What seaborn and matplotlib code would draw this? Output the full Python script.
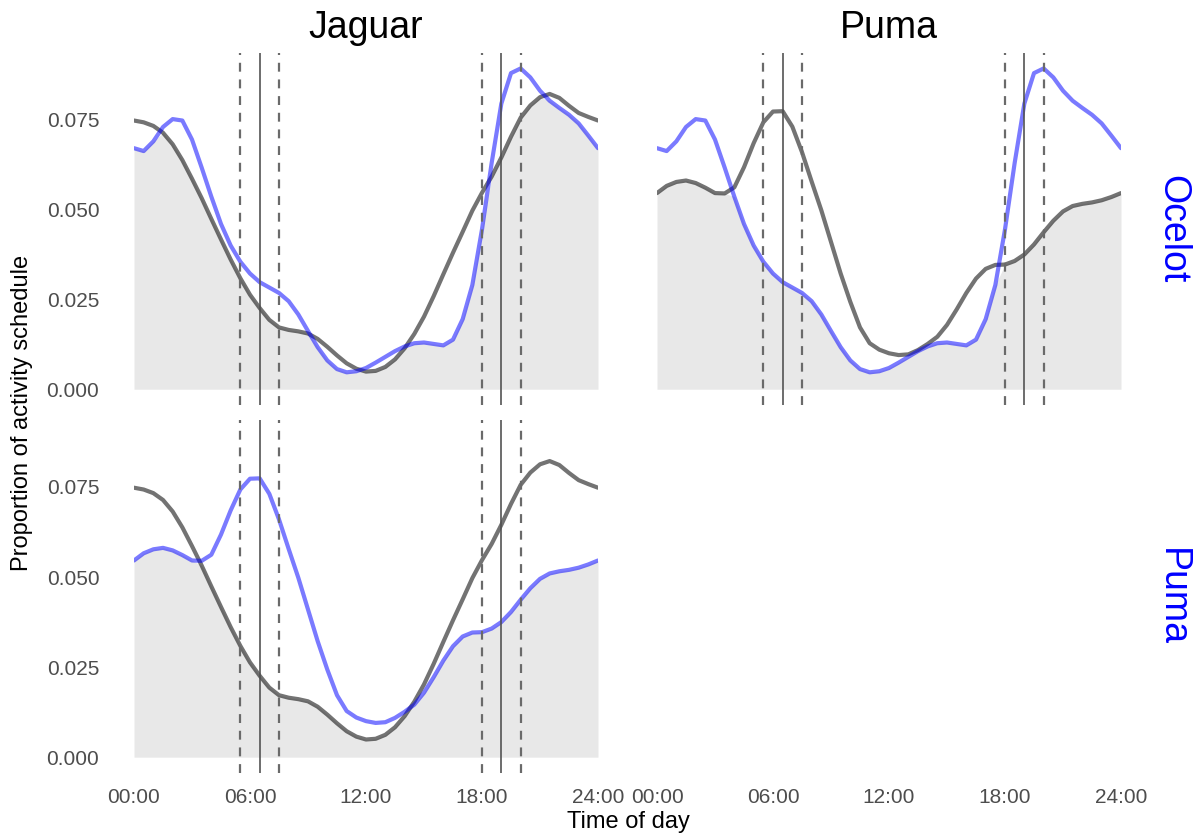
import numpy as np
import pandas as pd
import matplotlib
matplotlib.use("Agg")
import matplotlib.pyplot as plt
import seaborn as sns

# Kernel activity densities, sampled every half hour from 00:00 to 24:00
hours = np.arange(0, 24.01, 0.5)

jaguar = [0.0748, 0.0743, 0.0733, 0.0714, 0.0682, 0.0638, 0.0586, 0.0532, 0.0474, 0.0417,
          0.0361, 0.0309, 0.0263, 0.0226, 0.0193, 0.0172, 0.0165, 0.0161, 0.0155, 0.0140,
          0.0118, 0.0094, 0.0072, 0.0057, 0.0049, 0.0051, 0.0062, 0.0083, 0.0114, 0.0154,
          0.0202, 0.0259, 0.0320, 0.0380, 0.0438, 0.0497, 0.0547, 0.0592, 0.0645, 0.0703,
          0.0756, 0.0790, 0.0813, 0.0822, 0.0811, 0.0789, 0.0769, 0.0758, 0.0748]

ocelot = [0.0671, 0.0663, 0.0690, 0.0730, 0.0752, 0.0748, 0.0695, 0.0617, 0.0536, 0.0460,
          0.0400, 0.0355, 0.0322, 0.0298, 0.0283, 0.0268, 0.0245, 0.0208, 0.0162, 0.0117,
          0.0080, 0.0056, 0.0047, 0.0050, 0.0059, 0.0074, 0.0090, 0.0106, 0.0119, 0.0128,
          0.0130, 0.0126, 0.0122, 0.0138, 0.0195, 0.0290, 0.0445, 0.0630, 0.0795, 0.0880,
          0.0893, 0.0868, 0.0831, 0.0803, 0.0783, 0.0764, 0.0740, 0.0706, 0.0671]

puma = [0.0546, 0.0566, 0.0577, 0.0581, 0.0574, 0.0561, 0.0546, 0.0545, 0.0562, 0.0618,
        0.0685, 0.0743, 0.0773, 0.0774, 0.0731, 0.0660, 0.0578, 0.0498, 0.0410, 0.0322,
        0.0243, 0.0172, 0.0128, 0.0110, 0.0100, 0.0095, 0.0097, 0.0109, 0.0126, 0.0146,
        0.0179, 0.0222, 0.0268, 0.0308, 0.0335, 0.0346, 0.0347, 0.0357, 0.0375, 0.0403,
        0.0437, 0.0469, 0.0495, 0.0510, 0.0516, 0.0520, 0.0526, 0.0535, 0.0546]

densities = {"Jaguar": jaguar, "Ocelot": ocelot, "Puma": puma}

# Sunrise / sunset (solid) and their ranges (dashed), in hours
sun_events = [6.5, 19.0]
sun_ranges = [5.5, 7.5, 18.0, 20.0]

x_ticks = [0, 6, 12, 18, 24]
x_labels = ["00:00", "06:00", "12:00", "18:00", "24:00"]
y_ticks = [0.0, 0.025, 0.05, 0.075]
y_labels = ["0.000", "0.025", "0.050", "0.075"]

col_species = ["Jaguar", "Puma"]
row_species = ["Ocelot", "Puma"]

df = pd.DataFrame({"hour": np.tile(hours, 3),
                   "species": np.repeat(list(densities.keys()), len(hours)),
                   "density": np.concatenate([densities[k] for k in densities])})

sns.set_theme(style="white")
plt.rcParams["font.family"] = ["Liberation Sans", "DejaVu Sans"]

fig = plt.figure(figsize=(11.98, 8.38), dpi=100)
W, H = 1198, 838


def frac_box(x0, y0, x1, y1):
    return [x0 / W, 1 - y1 / H, (x1 - x0) / W, (y1 - y0) / H]


col_x = [(134, 598), (657, 1121)]
row_y = [(53, 405), (420, 773)]
ylim = (-0.0044, 0.0936)
tick_grey = "#4D4D4D"

for r, rsp in enumerate(row_species):
    for c, csp in enumerate(col_species):
        ax = fig.add_axes(frac_box(col_x[c][0], row_y[r][0], col_x[c][1], row_y[r][1]))
        ax.set_xlim(0, 24)
        ax.set_ylim(*ylim)
        for s in ax.spines.values():
            s.set_visible(False)
        ax.grid(False)
        ax.set_facecolor("none")
        ax.tick_params(length=0, colors=tick_grey, labelsize=15)
        ax.set_xticks(x_ticks)
        ax.set_yticks(y_ticks)
        if r == 1:
            ax.set_xticklabels(x_labels)
            ax.tick_params(axis="x", pad=11)
        else:
            ax.set_xticklabels([])
        if c == 0:
            ax.set_yticklabels(y_labels)
            ax.tick_params(axis="y", pad=25)
        else:
            ax.set_yticklabels([])

        if rsp == csp:
            continue

        ref = df[df.species == csp]
        other = df[df.species == rsp]
        overlap = np.minimum(np.asarray(densities[csp]), np.asarray(densities[rsp]))
        ax.fill_between(hours, 0, overlap, color="#E8E8E8", lw=0, zorder=1)

        sns.lineplot(data=ref, x="hour", y="density", ax=ax, color="black",
                     alpha=0.55, lw=3.0, zorder=3, solid_capstyle="round",
                     solid_joinstyle="round")
        sns.lineplot(data=other, x="hour", y="density", ax=ax, color="blue",
                     alpha=0.52, lw=3.0, zorder=4, solid_capstyle="round",
                     solid_joinstyle="round")

        for t in sun_events:
            ax.axvline(t, color="#505050", lw=1.3, alpha=0.9, zorder=5)
        for t in sun_ranges:
            ax.axvline(t, color="#6A6A6A", lw=1.6, ls=(0, (4, 3.5)), zorder=5)

    # remove per-axes labels set by seaborn
for ax in fig.axes:
    ax.set_xlabel("")
    ax.set_ylabel("")

# Column titles
for c, csp in enumerate(col_species):
    xc = (col_x[c][0] + col_x[c][1]) / 2 / W
    fig.text(xc, 1 - 38 / H, csp, ha="center", va="baseline", fontsize=27, color="black")

# Row labels
for r, rsp in enumerate(row_species):
    yc = 1 - (row_y[r][0] + row_y[r][1]) / 2 / H
    fig.text(1172 / W, yc, rsp, ha="center", va="center", rotation=270,
             fontsize=27, color="#0000FF")

fig.text(22 / W, 1 - 413 / H, "Proportion of activity schedule", rotation=90,
         ha="center", va="center", fontsize=17, color="black")
fig.text(628 / W, 1 - 822 / H, "Time of day", ha="center", va="center",
         fontsize=17, color="black")

fig.savefig("out.png", dpi=100, facecolor="white")
